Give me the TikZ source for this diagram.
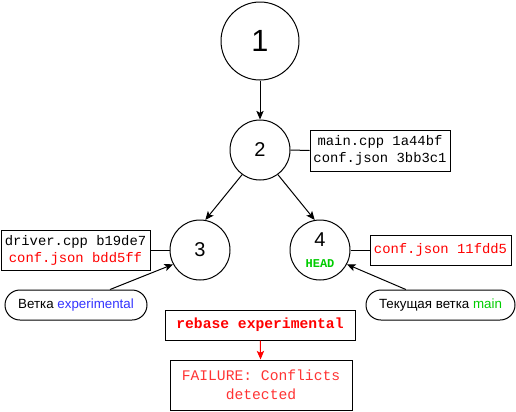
\documentclass[tikz,border=0pt]{standalone}
\usepackage{fontspec}
\setmainfont{Liberation Sans}
\setmonofont{Liberation Mono}
\usetikzlibrary{arrows.meta}
\definecolor{errred}{HTML}{FF0000}
\definecolor{failred}{HTML}{FF3333}
\definecolor{branchblue}{HTML}{3333FF}
\definecolor{headgreen}{HTML}{00CC00}

\begin{document}
\begin{tikzpicture}[x=0.75pt, y=-0.75pt, line width=0.75pt,
    commit/.style={circle, draw, minimum size=45pt, inner sep=0pt, font=\fontsize{15}{17}\selectfont},
    files/.style={draw, align=center, inner sep=0pt, font=\ttfamily\fontsize{10.4}{12.75}\selectfont},
    branch/.style={draw, rounded corners=11.25pt, inner sep=0pt, minimum height=22.5pt, font=\fontsize{10}{12}\selectfont},
    arr/.style={-{Stealth[length=6.5pt, width=5.5pt, inset=1.5pt]}}]
  \useasboundingbox (0,0) rectangle (516,411);

  % commits
  \node[commit, minimum size=58.5pt, font=\fontsize{23}{27}\selectfont] (c1) at (260,41) {1};
  \node[commit] (c2) at (260,150) {2};
  \node[commit] (c3) at (200,250) {3};
  \node[commit, align=center] (c4) at (320,250)
    {\raisebox{0pt}[10pt][4pt]{4}\\[-1pt]{\ttfamily\bfseries\fontsize{9}{10}\selectfont\color{headgreen}HEAD}};

  % changed files
  \node[files, minimum width=105pt, minimum height=30.75pt] (f2) at (380,150.5)
    {main.cpp 1a44bf\\conf.json 3bb3c1};
  \node[files, minimum width=111.75pt, minimum height=30pt] (f3) at (75.5,250)
    {driver.cpp b19de7\\\textcolor{errred}{conf.json bdd5ff}};
  \node[files, minimum width=105.75pt, minimum height=22.5pt, text=errred] (f4) at (440.5,250)
    {conf.json 11fdd5};

  % branches
  \node[branch, minimum width=106.5pt] (b3) at (76,305)
    {Ветка \textcolor{branchblue}{experimental}};
  \node[branch, minimum width=111.75pt] (b4) at (440.5,305)
    {Текущая ветка \textcolor{headgreen}{main}};

  % rebase
  \node[files, minimum width=142.5pt, minimum height=22.5pt, text=errred,
    font=\ttfamily\bfseries\fontsize{11}{13}\selectfont] (rb) at (260,325) {rebase experimental};
  \node[files, minimum width=136.5pt, minimum height=37.5pt, text=failred,
    font=\ttfamily\fontsize{11}{14}\selectfont] (fail) at (261,385) {FAILURE: Conflicts\\detected};

  \draw[arr] (c1) -- (c2);
  \draw[arr] (c2.-126) -- (c3.80);
  \draw[arr] (c2.-54) -- (c4.100);
  \draw (c2.east) -- (f2.west);
  \draw (c3.west) -- (f3.east);
  \draw (c4.east) -- (f4.west);
  \draw[arr] ([xshift=25.5pt]b3.north) -- (c3.-152);
  \draw[arr] ([xshift=-26pt]b4.north) -- (c4.-28);
  \draw[arr, errred] (rb) -- (fail);
\end{tikzpicture}
\end{document}
